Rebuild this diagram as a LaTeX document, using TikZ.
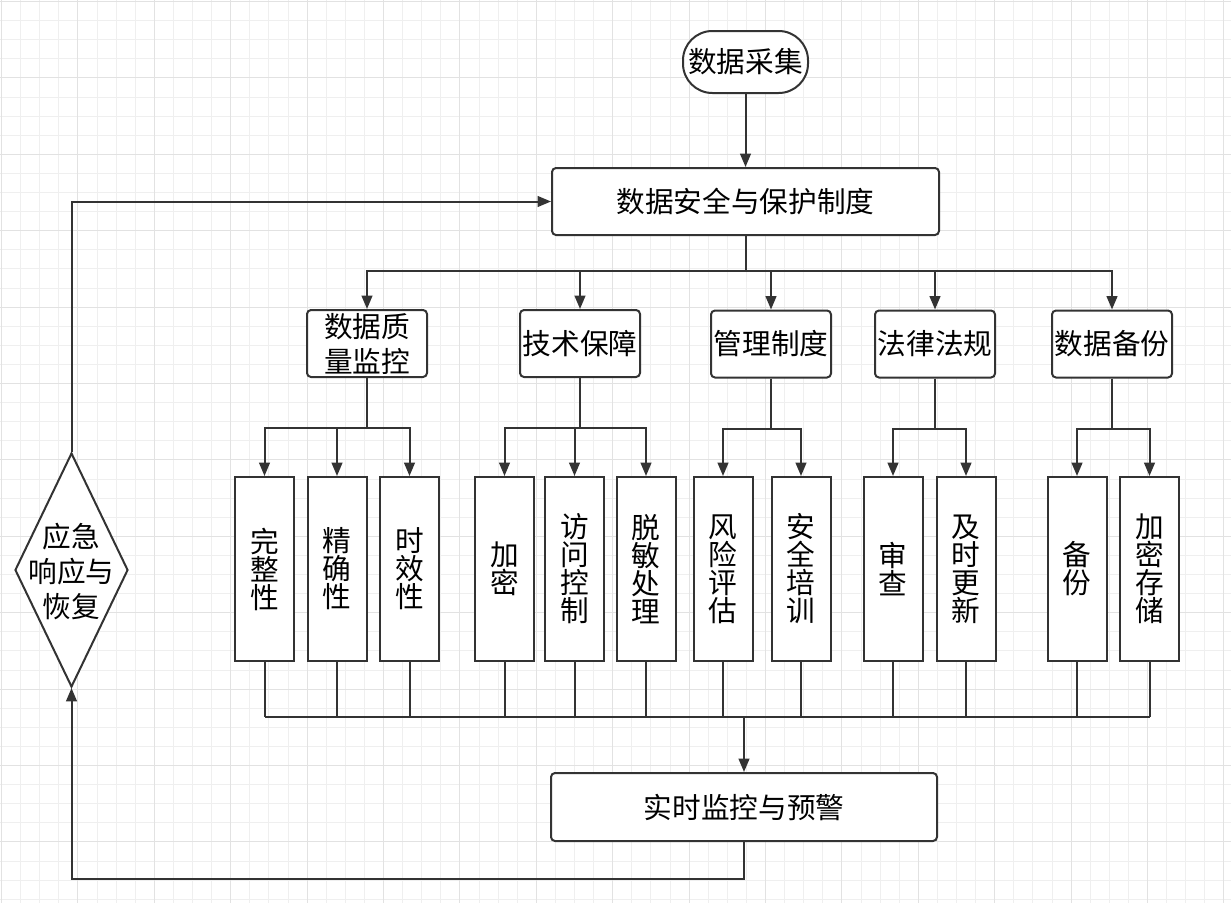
\documentclass[tikz,border=0pt]{standalone}
\usepackage{fontspec}
\newfontfamily\cjk{Noto Sans CJK SC}
\usetikzlibrary{shapes.geometric,arrows.meta,calc}
\definecolor{lc}{HTML}{333333}
\definecolor{gminor}{HTML}{EFEFEF}
\definecolor{gmajor}{HTML}{E2E2E2}
\begin{document}
\begin{tikzpicture}[x=0.75pt,y=-0.75pt,
  line/.style={draw=lc, line width=1.5pt},
  arr/.style={line, -{Triangle[length=10pt,width=8pt]}},
  box/.style={draw=lc, line width=1.5pt, fill=white, rounded corners=3pt, inner sep=0pt,
    font=\cjk\fontsize{21.5}{26.25}\selectfont, align=center, text=black},
  hbox/.style={box, minimum width=90pt, minimum height=50.25pt},
  leaf/.style={box, rounded corners=0pt, minimum width=44.25pt, minimum height=138pt,
    font=\cjk\fontsize{21.5}{21}\selectfont},
  txt/.style={inner sep=0pt, font=\cjk\fontsize{21.5}{26.25}\selectfont, align=center, text=black},
]
\useasboundingbox (0,0) rectangle (1231,903);
\fill[white] (0,0) rectangle (1231,903);
% grid
\foreach \i in {0,...,64} {\pgfmathsetmacro\gx{1.5+19.1*\i}
  \draw[gminor, line width=0.75pt] (\gx,0) -- (\gx,903);}
\foreach \i in {0,...,47} {\pgfmathsetmacro\gy{1.5+19.1*\i}
  \draw[gminor, line width=0.75pt] (0,\gy) -- (1231,\gy);}
\foreach \i in {0,4,...,64} {\pgfmathsetmacro\gx{1.5+19.1*\i}
  \draw[gmajor, line width=0.75pt] (\gx,0) -- (\gx,903);}
\foreach \i in {0,4,...,44} {\pgfmathsetmacro\gy{1.5+19.1*\i}
  \draw[gmajor, line width=0.75pt] (0,\gy) -- (1231,\gy);}

% nodes
\node[box, rounded corners=22pt, minimum width=93.75pt, minimum height=46.5pt] (collect) at (745.5,62) {数据采集};
\node[box, minimum width=290.25pt, minimum height=50.25pt] (main) at (745.5,201.5) {数据安全与保护制度};
\node[hbox] (h1) at (367,343.5) {数据质\\量监控};
\node[hbox] (h2) at (580,343.5) {技术保障};
\node[hbox] (h3) at (771,344) {管理制度};
\node[hbox] (h4) at (935,344) {法律法规};
\node[hbox] (h5) at (1112,344) {数据备份};

\node[leaf] (l1) at (264.5,569) {完\\整\\性};
\node[leaf] (l2) at (337,569) {精\\确\\性};
\node[leaf] (l3) at (409.5,569) {时\\效\\性};
\node[leaf] (l4) at (504.5,569) {加\\密};
\node[leaf] (l5) at (574.5,569) {访\\问\\控\\制};
\node[leaf] (l6) at (646,569) {脱\\敏\\处\\理};
\node[leaf] (l7) at (723,569) {风\\险\\评\\估};
\node[leaf] (l8) at (801,569) {安\\全\\培\\训};
\node[leaf] (l9) at (893,569) {审\\查};
\node[leaf] (l10) at (966,569) {及\\时\\更\\新};
\node[leaf] (l11) at (1077,569) {备\\份};
\node[leaf] (l12) at (1149.5,569) {加\\密\\存\\储};

\node[box, minimum width=289.5pt, minimum height=51pt] (monitor) at (744,807) {实时监控与预警};
\node[diamond, draw=lc, line width=1.5pt, fill=white, inner sep=0pt,
  minimum width=84.75pt, minimum height=175.5pt] (dia) at (71.5,570) {};
\node[txt] (diatext) at (71.5,572) {应急\\响应与\\恢复};

% connectors
\draw[arr] (collect) -- (main);
\coordinate (b0) at (745.5,271);
\draw[line] (main.south) -- (b0);
\foreach \h in {h1,h2,h3,h4,h5} \draw[arr] (b0) -| (\h.north);
\foreach \h/\c in {h1/l1,h1/l2,h1/l3,h2/l4,h2/l5,h2/l6,h3/l7,h3/l8,h4/l9,h4/l10,h5/l11,h5/l12}
  \draw[arr] (\h.south) -- ++(0,50) -| (\c.north);
\coordinate (bus) at (744,717);
\foreach \l in {l1,l2,l3,l4,l5,l6,l7,l8,l9,l10,l11,l12} \draw[line] (\l.south) -- (\l.south |- bus);
\draw[line] (l1.south |- bus) -- (l12.south |- bus);
\draw[arr] (bus) -- (monitor.north);
\draw[arr] (monitor.south) -- ++(0,37) -| (dia.south);
\draw[arr] (dia.north) |- (main.west);
\end{tikzpicture}
\end{document}
